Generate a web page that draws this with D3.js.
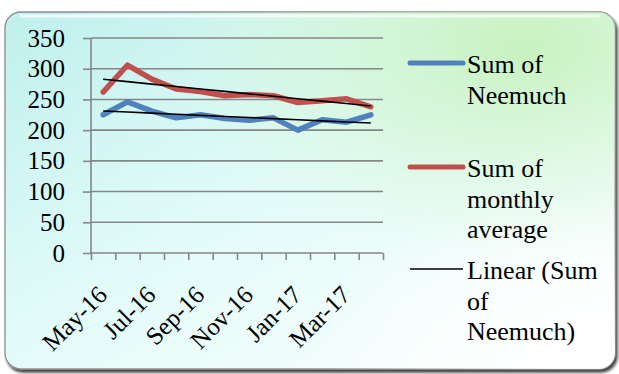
<!DOCTYPE html>
<html><head><meta charset="utf-8">
<script src="https://cdn.jsdelivr.net/npm/d3@7/dist/d3.min.js"></script>
<style>html,body{margin:0;padding:0;background:#fff;}svg{display:block;}</style>
</head><body>
<script>
const months = ["May-16","Jun-16","Jul-16","Aug-16","Sep-16","Oct-16","Nov-16","Dec-16","Jan-17","Feb-17","Mar-17","Apr-17"];
const neemuch = [225,246,231,220,225,219,216,220,200,217,213,225];
const monthlyAvg = [262,306,283,267,263,256,258,256,245,248,251,238];
const yTicks = [0,50,100,150,200,250,300,350];
const legendItems = [
  {lines:["Sum of","Neemuch"], color:"#4F81BD", w:5},
  {lines:["Sum of","monthly","average"], color:"#C0504D", w:5},
  {lines:["Linear (Sum","of","Neemuch)"], color:"#000", w:1.6}
];
const FONT='"Liberation Serif"';

const W=619,H=374;
const svg=d3.select("body").append("svg").attr("width",W).attr("height",H);
const defs=svg.append("defs");
const lg=defs.append("linearGradient").attr("id","bg").attr("x1","0").attr("y1","0").attr("x2","1").attr("y2","1");
lg.append("stop").attr("offset","0").attr("stop-color","#bff0ec");
lg.append("stop").attr("offset","0.45").attr("stop-color","#e1fbf9");
lg.append("stop").attr("offset","1").attr("stop-color","#ffffff");
const rg=defs.append("radialGradient").attr("id","green").attr("cx","0.85").attr("cy","0.1").attr("r","0.6");
rg.append("stop").attr("offset","0").attr("stop-color","#c6f1bb").attr("stop-opacity",0.95);
rg.append("stop").attr("offset","1").attr("stop-color","#d8f7d0").attr("stop-opacity",0);
const wg=defs.append("radialGradient").attr("id","white").attr("cx","0.95").attr("cy","0.95").attr("r","0.45");
wg.append("stop").attr("offset","0").attr("stop-color","#ffffff").attr("stop-opacity",1);
wg.append("stop").attr("offset","1").attr("stop-color","#ffffff").attr("stop-opacity",0);
const f=defs.append("filter").attr("id","sh").attr("x","-5%").attr("y","-5%").attr("width","110%").attr("height","110%");
f.append("feGaussianBlur").attr("in","SourceAlpha").attr("stdDeviation",1.5);
f.append("feOffset").attr("dx",1.5).attr("dy",2.5).attr("result","o");
f.append("feComponentTransfer").append("feFuncA").attr("type","linear").attr("slope",0.75);
const m=f.append("feMerge");m.append("feMergeNode");m.append("feMergeNode").attr("in","SourceGraphic");

svg.append("rect").attr("x",5).attr("y",12).attr("width",610).attr("height",357).attr("rx",16)
  .attr("fill","url(#bg)").attr("stroke","#8e8e8e").attr("stroke-width",1.3).attr("filter","url(#sh)");
svg.append("rect").attr("x",5).attr("y",12).attr("width",610).attr("height",357).attr("rx",16).attr("fill","url(#green)");
svg.append("rect").attr("x",5).attr("y",12).attr("width",610).attr("height",357).attr("rx",16).attr("fill","url(#white)");
svg.append("path").attr("d","M20,16 H600").attr("stroke","#fff").attr("stroke-opacity",0.7).attr("stroke-width",3);

const x0=91,x1=383,y0=253,y1=38;
const x=d3.scaleBand().domain(months).range([x0,x1]);
const y=d3.scaleLinear().domain([0,350]).range([y0,y1]);
const g=svg.append("g");
g.selectAll("line.grid").data(yTicks.filter(d=>d>0)).join("line")
  .attr("x1",x0).attr("x2",x1).attr("y1",d=>y(d)).attr("y2",d=>y(d))
  .attr("stroke","#868686").attr("stroke-width",1.6);
const ya=d3.axisLeft(y).tickValues(yTicks).tickSize(8).tickPadding(18);
const yg=g.append("g").attr("transform",`translate(${x0},0)`).call(ya);
yg.select(".domain").attr("stroke","#868686").attr("stroke-width",1.6).attr("d",`M0,${y1}V${y0}`);
yg.selectAll(".tick line").attr("stroke","#868686").attr("stroke-width",1.6);
yg.selectAll(".tick text").style("font-family",FONT).style("font-size","25px").attr("fill","#000");

const xa=d3.axisBottom(d3.scaleLinear().domain([0,12]).range([x0,x1])).tickValues(d3.range(13)).tickSize(7).tickFormat("");
const xg=g.append("g").attr("transform",`translate(0,${y0})`).call(xa);
xg.select(".domain").attr("stroke","#868686").attr("stroke-width",1.6).attr("d",`M${x0},0H${x1}`);
xg.selectAll(".tick line").attr("stroke","#868686").attr("stroke-width",1.6);
g.selectAll("text.xl").data(months.filter((d,i)=>i%2===0)).join("text")
  .attr("transform",d=>`translate(${x(d)+x.bandwidth()/2-7},${y0+31}) rotate(-45)`)
  .attr("text-anchor","end").attr("dy","0.7em").style("font-family",FONT).style("font-size","25px").attr("fill","#000").text(d=>d);

const line=d3.line().x((d,i)=>x(months[i])+x.bandwidth()/2).y(d=>y(d));
function trend(vals){
  const n=vals.length, xs=d3.range(n), mx=d3.mean(xs), my=d3.mean(vals);
  const s=d3.sum(xs,(xi,i)=>(xi-mx)*(vals[i]-my))/d3.sum(xs,xi=>(xi-mx)**2);
  return xs.map(xi=>my+s*(xi-mx));
}
g.append("path").attr("d",line(monthlyAvg)).attr("fill","none").attr("stroke","#C0504D").attr("stroke-width",5.5).attr("stroke-linejoin","round").attr("stroke-linecap","round");
g.append("path").attr("d",line(neemuch)).attr("fill","none").attr("stroke","#4F81BD").attr("stroke-width",5.5).attr("stroke-linejoin","round").attr("stroke-linecap","round");
g.append("path").attr("d",line(trend(neemuch))).attr("fill","none").attr("stroke","#000").attr("stroke-width",1.6);
g.append("path").attr("d",line(trend(monthlyAvg))).attr("fill","none").attr("stroke","#000").attr("stroke-width",1.6);

const lgTop=[63,167,269];
legendItems.forEach((it,k)=>{
  const ly=lgTop[k];
  svg.append("line").attr("x1",410).attr("x2",463).attr("y1",ly).attr("y2",ly).attr("stroke",it.color).attr("stroke-width",it.w).attr("stroke-linecap",it.w>2?"round":"butt");
  const t=svg.append("text").attr("x",467).attr("y",ly+10).style("font-family",FONT).style("font-size","26px").attr("fill","#000");
  it.lines.forEach((s,i)=>t.append("tspan").attr("x",467).attr("dy",i?30.5:0).text(s));
});
</script>
</body></html>
